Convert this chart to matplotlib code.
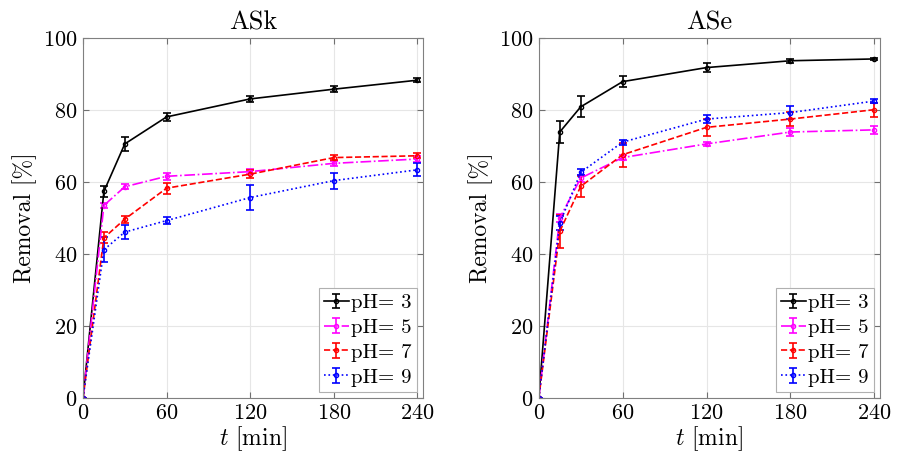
import numpy as np
import matplotlib
matplotlib.use("Agg")
import matplotlib.pyplot as plt
from matplotlib.container import ErrorbarContainer
from matplotlib.legend_handler import HandlerErrorbar

plt.rcParams["font.family"] = "serif"
plt.rcParams["font.serif"] = ["cmr10"]
plt.rcParams["mathtext.fontset"] = "cm"
plt.rcParams["axes.formatter.use_mathtext"] = True

t = [0, 15, 30, 60, 120, 180, 240]
labels = ["pH= 3", "pH= 5", "pH= 7", "pH= 9"]
colors = ["black", "magenta", "red", "blue"]
styles = ["-", "-.", "--", ":"]

# ASk
ask_mean = [
    [0, 57.4, 70.6, 78.1, 83.1, 85.8, 88.3],
    [0, 53.5, 58.7, 61.6, 62.9, 65.2, 66.4],
    [0, 44.5, 49.7, 58.3, 62.2, 66.8, 67.3],
    [0, 41.2, 46.1, 49.3, 55.7, 60.4, 63.4],
]
ask_err = [
    [0, 1.5, 2.0, 1.0, 0.8, 0.8, 0.5],
    [0, 0.6, 0.7, 1.0, 0.6, 0.6, 0.8],
    [0, 1.5, 1.0, 1.5, 1.2, 0.7, 0.7],
    [0, 3.5, 2.0, 1.0, 3.4, 2.2, 1.8],
]

# ASe
ase_mean = [
    [0, 73.9, 80.9, 87.9, 91.8, 93.7, 94.2],
    [0, 50.0, 61.1, 66.8, 70.6, 73.9, 74.5],
    [0, 46.3, 58.8, 67.6, 75.2, 77.5, 80.1],
    [0, 48.6, 62.7, 71.1, 77.5, 79.3, 82.5],
]
ase_err = [
    [0, 3.1, 2.9, 1.5, 1.2, 0.5, 0.3],
    [0, 1.0, 1.0, 0.6, 0.5, 1.0, 1.1],
    [0, 4.5, 3.0, 3.3, 2.3, 2.0, 1.9],
    [0, 2.0, 0.8, 0.7, 1.2, 1.7, 0.5],
]

fig = plt.figure(figsize=(9.01, 4.57), dpi=100)
ax1 = fig.add_axes([0.0921, 0.129, 0.3774, 0.7877])
ax2 = fig.add_axes([0.598, 0.129, 0.3785, 0.7877])

for ax, means, errs, title in [(ax1, ask_mean, ask_err, "ASk"), (ax2, ase_mean, ase_err, "ASe")]:
    for m, e, c, ls, lab in zip(means, errs, colors, styles, labels):
        ax.errorbar(t, m, yerr=e, color=c, linestyle=ls, marker="o", markersize=3,
                    markerfacecolor="none", linewidth=1.2, elinewidth=1.2,
                    capsize=3, capthick=1.2, label=lab)
    ax.set_xlim(0, 244)
    ax.set_ylim(0, 100)
    ax.set_xticks([0, 60, 120, 180, 240])
    ax.set_yticks([0, 20, 40, 60, 80, 100])
    ax.grid(True, color="#e6e6e6", linewidth=0.8)
    ax.set_axisbelow(True)
    ax.tick_params(direction="in", labelsize=16, top=True, right=True, color="#707070",
                   length=4, pad=4)
    for s in ax.spines.values():
        s.set_color("#808080")
        s.set_linewidth(0.8)
    ax.set_title(title, fontsize=19, pad=6)
    ax.set_xlabel(r"$t$ [min]", fontsize=17, labelpad=1)
    ax.set_ylabel("Removal [%]", fontsize=17, labelpad=4)
    leg = ax.legend(loc="lower right", fontsize=15, fancybox=False, edgecolor="#b0b0b0",
                    handlelength=1.2, handletextpad=0.1, borderpad=0.25, labelspacing=0.3,
                    borderaxespad=0.3, framealpha=1,
                    handler_map={ErrorbarContainer: HandlerErrorbar(yerr_size=0.35)})
    leg.get_frame().set_linewidth(0.8)

fig.savefig("out.png", dpi=100)
